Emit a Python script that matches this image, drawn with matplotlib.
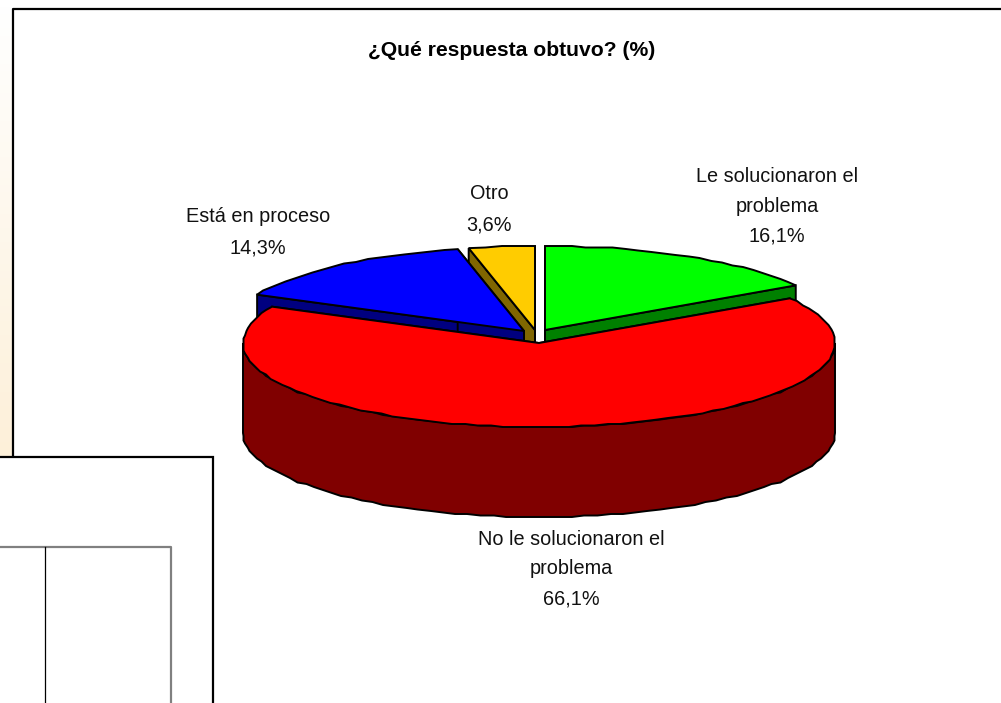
import numpy as np
import matplotlib
matplotlib.use("Agg")
import matplotlib.pyplot as plt
from matplotlib.patches import Polygon, Rectangle
from matplotlib.colors import to_rgb

plt.rcParams["font.family"] = ["Liberation Sans", "DejaVu Sans"]

TITLE = "¿Qué respuesta obtuvo? (%)"
labels = ["Le solucionaron el\nproblema", "No le solucionaron el\nproblema", "Está en proceso", "Otro"]
values = [16.1, 66.1, 14.3, 3.6]
value_labels = ["16,1%", "66,1%", "14,3%", "3,6%"]

top_colors = ["#00ff00", "#ff0000", "#0000ff", "#ffcc00"]
side_colors = ["#008000", "#800000", "#000080", "#806600"]

# slice explosion in pixels, for each slice
offsets = [(6, -13), (0, 0), (-15, -12), (-4, -13)]
label_pos = [(777, 206), (571, 569), (258, 232), (489, 209)]
label_spacing = [1.72, 1.72, 1.85, 1.85]

CX, CY = 539, 343
RX, RY = 296, 84
DEPTH = 90
GRID = 1.5  # the original outline is a little jagged


def rim(t0, t1):
    n = max(4, int(abs(t1 - t0) / 2.5))
    t = np.radians(np.linspace(t0, t1, n))
    x = RX * np.sin(t)
    y = -RY * np.cos(t)
    x[1:-1] = np.round(x[1:-1] / GRID) * GRID
    y[1:-1] = np.round(y[1:-1] / GRID) * GRID
    return np.column_stack([x, y])


def draw_slice(ax, t0, t1, off, top, side, z):
    ox, oy = CX + off[0], CY + off[1]
    pts = rim(t0, t1)
    apex = np.array([[0.0, 0.0]])
    for end in (pts[0], pts[-1]):
        face = np.array([[0, 0], end, end + [0, DEPTH], [0, DEPTH]], dtype=float)
        ax.add_patch(Polygon(face + [ox, oy], fc=side, ec="black", lw=1.4, zorder=z))
    # outer wall only where the rim faces the viewer
    w0, w1 = max(t0, 90), min(t1, 270)
    if w1 > w0:
        front = rim(w0, w1)
        wall = np.vstack([front, front[::-1] + [0, DEPTH]])
        ax.add_patch(Polygon(wall + [ox, oy], fc=side, ec="black", lw=1.4, zorder=z + 0.2))
    ax.add_patch(Polygon(np.vstack([apex, pts]) + [ox, oy], fc=top, ec="black", lw=1.4, zorder=z + 0.5))


fig = plt.figure(figsize=(10.01, 7.03), dpi=100)
ax = fig.add_axes([0, 0, 1, 1])

# cream gradient strip on the left, behind the frame
grad = np.linspace(0, 1, 64)[:, None, None]
white = np.array([1.0, 1.0, 1.0])
cream = np.array(to_rgb("#fdf0d9"))
ax.imshow(white + (cream - white) * grad, extent=(0, 13, 456, 0), aspect="auto", zorder=0)
ax.set_xlim(0, 1001)
ax.set_ylim(703, 0)
ax.axis("off")

# chart frame, open on the right
ax.plot([13, 13, 1001], [456, 9, 9], color="black", lw=1.6, zorder=1)

# lower left panel overlapping the frame
ax.add_patch(Rectangle((-5, 457), 218, 260, fc="white", ec="black", lw=1.6, zorder=2))
ax.plot([0, 171, 171], [547, 547, 703], color="#808080", lw=1.6, zorder=3)
ax.plot([45, 45], [547, 703], color="black", lw=0.9, zorder=3)

edges = np.cumsum([0] + values) / sum(values) * 360
order = [3, 2, 0, 1]  # red goes last, it sits in front
for i, k in enumerate(order):
    draw_slice(ax, edges[k], edges[k + 1], offsets[k], top_colors[k], side_colors[k], 5 + i)

ax.text(512, 50, TITLE, ha="center", va="center", fontsize=15.2, fontweight="bold", color="black", zorder=20)
for lab, val, pos, sp in zip(labels, value_labels, label_pos, label_spacing):
    ax.text(pos[0], pos[1], lab + "\n" + val, ha="center", va="center", fontsize=14.3,
            linespacing=sp, color="#111111", zorder=20)

fig.savefig("out.png", dpi=100)
